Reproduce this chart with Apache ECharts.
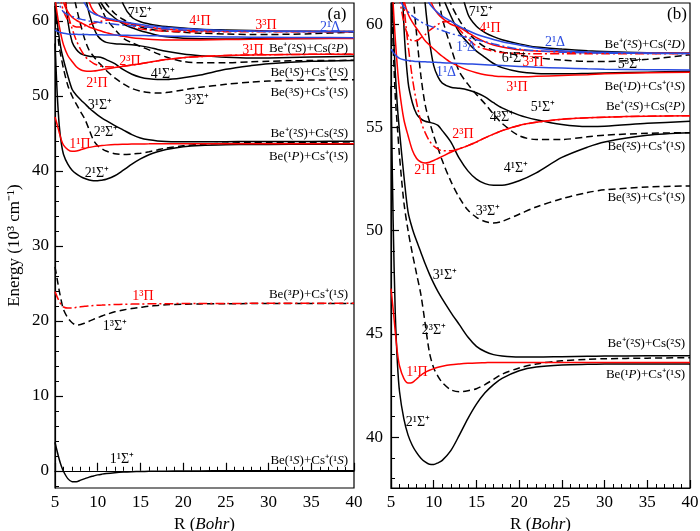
<!DOCTYPE html>
<html><head><meta charset="utf-8">
<script src="https://cdn.jsdelivr.net/npm/echarts@6/dist/echarts.min.js"></script>
<style>html,body{margin:0;padding:0;background:#fff}#c{width:700px;height:531px}</style>
</head><body><div id="c"></div>
<script>
// R grid (Bohr)
const R = [5,5.25,5.5,5.75,6,6.5,7,7.5,8,8.5,9,9.5,10,10.5,11,12,13,14,15,16,17,18,20,22,25,28,30,35,40];
// Energies (10^3 cm^-1)
const E_1S1 = [3.8,2.6,1.5,0.6,-0.1,-1.05,-1.45,-1.45,-1.25,-1.05,-0.85,-0.7,-0.55,-0.45,-0.37,-0.26,-0.18,-0.13,-0.1,-0.08,-0.06,-0.05,-0.03,-0.02,-0.01,0,0,0,0];
const E_1S3 = [27.2,25.6,24.0,22.6,21.5,20.4,19.75,19.45,19.5,19.7,19.95,20.2,20.4,20.65,20.85,21.2,21.45,21.65,21.8,21.95,22.05,22.15,22.22,22.26,22.28,22.3,22.3,22.3,22.3];
const E_1P3 = [23.9,23.2,22.6,22.1,21.85,21.7,21.7,21.8,21.88,21.95,22.0,22.05,22.08,22.1,22.13,22.17,22.2,22.23,22.25,22.27,22.28,22.29,22.3,22.3,22.32,22.33,22.33,22.34,22.35];
const E_2S1 = [57,50.5,46,43.6,42.2,40.9,40.1,39.6,39.25,38.98,38.8,38.69,38.68,38.76,38.88,39.35,40.1,40.9,41.6,42.15,42.55,42.85,43.22,43.4,43.5,43.53,43.54,43.55,43.55];
const E_1P1 = [47.2,46.2,45.1,44.1,43.45,42.85,42.62,42.65,42.82,43.0,43.14,43.24,43.32,43.39,43.44,43.51,43.55,43.58,43.6,43.61,43.62,43.62,43.62,43.62,43.62,43.62,43.62,43.62,43.62];
const E_2S3 = [62,59,56.5,55,53.6,51.4,50.0,48.9,47.9,46.9,45.5,44.1,43.35,42.95,42.65,42.3,42.2,42.25,42.35,42.55,42.8,43.05,43.35,43.55,43.7,43.77,43.8,43.83,43.85];
const E_3S1 = [63,60,57.7,56,54.8,52.7,50.9,50.1,49.5,48.95,48.4,47.9,47.45,47.05,46.7,46.05,45.45,44.85,44.4,44.15,44.0,43.93,43.88,43.88,43.9,43.92,43.93,43.94,43.95];
const E_3S3 = [80,78,76,74,72,68,64.5,61.8,59.5,57.5,56.1,55.3,54.6,54.0,53.4,52.4,51.6,51.0,50.65,50.45,50.38,50.45,50.8,51.15,51.55,51.85,51.98,52.12,52.17];
const E_4S1 = [80,77,74,70,66,60,57.2,56.2,55.65,55.42,55.3,55.25,55.2,55.1,54.85,54.3,53.5,52.9,52.5,52.28,52.2,52.2,52.42,52.8,53.55,54.05,54.3,54.62,54.74];
const E_2P1 = [63,61,59.3,57.9,56.8,55.4,54.6,53.9,53.5,53.33,53.28,53.32,53.4,53.5,53.6,53.8,53.97,54.12,54.3,54.5,54.68,54.85,55.1,55.25,55.4,55.47,55.5,55.55,55.57];
const E_2P3 = [72,70,68,66,64,61,59.0,57.4,56.2,55.3,54.75,54.35,54.1,53.95,53.88,53.87,53.97,54.12,54.3,54.5,54.68,54.85,55.1,55.25,55.4,55.47,55.5,55.55,55.57];
const E_5S1 = [90,88,86,84,82,78,74,70,66.5,63.5,61.0,59.2,58.0,57.45,57.15,56.95,56.9,56.82,56.68,56.48,56.2,55.95,55.6,55.38,55.15,55.05,55.06,55.2,55.3];
const E_4S3 = [100,98,96,94,92,87,82,76,72,68.5,66,64.2,62.7,61.5,60.3,58.9,57.7,57.1,56.6,56.15,55.65,55.2,54.6,54.42,54.42,54.55,54.63,54.72,54.75];
const E_3P1 = [72,69,66.5,64.3,62.5,61.2,60.5,60.1,59.8,59.5,59.2,59.0,58.8,58.62,58.45,58.15,57.95,57.78,57.65,57.55,57.5,57.47,57.46,57.48,57.52,57.56,57.6,57.65,57.68];
const E_1D1 = [58.8,58.65,58.52,58.42,58.35,58.28,58.24,58.22,58.2,58.19,58.18,58.17,58.16,58.15,58.14,58.12,58.1,58.08,58.06,58.04,58.02,58.0,57.96,57.92,57.88,57.84,57.82,57.8,57.78];
const E_1D3 = [63.5,62.8,62.2,61.6,61.2,60.85,60.6,60.4,60.25,60.12,60.0,59.92,59.85,59.77,59.7,59.55,59.45,59.35,59.25,59.15,59.05,58.95,58.8,58.72,58.65,58.62,58.6,58.59,58.58];
const E_3P3 = [68,66,64,62.4,61.3,60.1,59.45,59.2,59.2,59.35,59.5,59.7,59.85,60.0,60.1,60.15,59.75,59.3,58.95,58.8,58.7,58.63,58.58,58.57,58.57,58.57,58.57,58.57,58.57];
const E_6S1 = [100,98,96,94,92,88,84,80,75,71,67.5,65,63.3,62.2,61.4,60.4,59.6,59.1,58.7,58.4,58.1,57.9,57.7,57.62,57.6,57.62,57.64,57.68,57.72];
const E_5S3 = [100,98,96,94,92,88,84,80,76,72,69,66.5,64.5,63.3,62.3,61.0,60.2,59.6,59.2,58.9,58.75,58.65,58.5,58.38,58.27,58.2,58.2,58.3,58.52];
const E_4P1 = [90,88,86,84,82,77,72.5,68.5,66,64.5,62.5,61.3,60.8,60.5,60.3,60.0,59.85,59.6,59.35,59.15,59.0,58.9,58.76,58.7,58.66,58.63,58.62,58.61,58.6];
const E_2D1 = [90,88,86,84,82,77,72,67.5,63.5,62.3,61.4,61.0,60.75,60.55,60.4,60.15,59.9,59.7,59.52,59.38,59.26,59.15,59.0,58.85,58.72,58.66,58.64,58.61,58.59];
const E_7S1 = [100,98,96,94,92,90,88,86,84,82,80,78,76,74,72,66,62.2,60.5,59.9,59.6,59.4,59.25,59.05,58.9,58.8,58.72,58.68,58.62,58.6];

// tick labels
const X_TICKS = [5,10,15,20,25,30,35,40];
const YA_MAJOR = [0,10,20,30,40,50,60];
const YA_MINOR = [-2,2,4,6,8,12,14,16,18,22,24,26,28,32,34,36,38,42,44,46,48,52,54,56,58,62];
const YB_MAJOR = [40,45,50,55,60];
const YB_MINOR = [38,39,41,42,43,44,46,47,48,49,51,52,53,54,56,57,58,59,61];

const K='#000000', RED='#ff0000', BLU='#2a4be0';
const SOLID='solid', DASH=[7,4], DDOT=[9,3,2,3];
const curves = [
  {E:E_1S1,c:K,t:SOLID,z:2},{E:E_1S3,c:K,t:DASH,z:2},{E:E_2S1,c:K,t:SOLID,z:2},{E:E_2S3,c:K,t:DASH,z:2},
  {E:E_3S1,c:K,t:SOLID,z:2},{E:E_3S3,c:K,t:DASH,z:2},{E:E_4S1,c:K,t:SOLID,z:2},{E:E_5S1,c:K,t:SOLID,z:2},
  {E:E_4S3,c:K,t:DASH,z:2},{E:E_6S1,c:K,t:SOLID,z:2},{E:E_5S3,c:K,t:DASH,z:2},{E:E_7S1,c:K,t:SOLID,z:2},
  {E:E_1P3,c:RED,t:DDOT,z:3},{E:E_1P1,c:RED,t:SOLID,z:3},{E:E_2P1,c:RED,t:SOLID,z:3},{E:E_2P3,c:RED,t:DDOT,z:3},
  {E:E_3P1,c:RED,t:SOLID,z:3},{E:E_3P3,c:RED,t:DDOT,z:3},{E:E_4P1,c:RED,t:SOLID,z:3},
  {E:E_1D1,c:BLU,t:SOLID,z:4},{E:E_1D3,c:BLU,t:DDOT,z:4},{E:E_2D1,c:BLU,t:SOLID,z:4}
];

const FF = '"Liberation Serif","Times New Roman",serif';
const series = [];
[0,1].forEach(gi => {
  curves.forEach(cv => {
    series.push({
      type:'line', xAxisIndex:gi, yAxisIndex:gi*2,
      data: R.map((r,i)=>[r, cv.E[i]]),
      showSymbol:false, symbol:'none', smooth:0.3, silent:true, z:cv.z,
      lineStyle:{color:cv.c, width:1.5, type:cv.t, cap:'butt'}
    });
  });
});

const xName = {fontFamily:FF, fontSize:17, color:'#000', rich:{i:{fontFamily:FF, fontSize:17, fontStyle:'italic', color:'#000'}}};
function xAxis(gi){
  return {type:'value', gridIndex:gi, min:5, max:40, interval:5,
    axisLine:{show:true, lineStyle:{color:'#000', width:1.2}},
    axisTick:{inside:true, length:8, lineStyle:{color:'#000', width:1.2}},
    minorTick:{show:true, splitNumber:5, length:4, lineStyle:{color:'#000', width:1}},
    axisLabel:{color:'#000', fontFamily:FF, fontSize:17, margin:6, customValues:X_TICKS},
    splitLine:{show:false}, minorSplitLine:{show:false},
    name:'R ({i|Bohr})', nameLocation:'middle', nameGap:25, nameTextStyle:xName};
}
function yMajor(gi, min, max, vals, margin, name){
  const a = {type:'value', gridIndex:gi, min:min, max:max, position:'left', offset:0,
    axisLine:{show:true, lineStyle:{color:'#000', width:1.2}},
    axisTick:{show:true, inside:true, length:8, customValues:vals, lineStyle:{color:'#000', width:1.2}},
    axisLabel:{color:'#000', fontFamily:FF, fontSize:17, margin:margin, customValues:vals},
    splitLine:{show:false}};
  if (name) { a.name=name; a.nameLocation='middle'; a.nameGap=32; a.nameRotate=90;
    a.nameTextStyle={fontFamily:FF, fontSize:17, color:'#000'}; }
  return a;
}
function yMinor(gi, min, max, vals){
  return {type:'value', gridIndex:gi, min:min, max:max, position:'left', offset:0,
    axisLine:{show:false}, axisLabel:{show:false}, splitLine:{show:false},
    axisTick:{show:true, inside:true, length:4, customValues:vals, lineStyle:{color:'#000', width:1}}};
}

// annotations
const COL = {k:K, r:RED, b:BLU};
const stateLabels = [
  ['7¹Σ⁺','k',140,13],['4¹Π','r',200,21],['3³Π','r',266,25],['2¹Δ','b',330,27],['3¹Π','r',253,50],
  ['2³Π','r',130,61],['4¹Σ⁺','k',163,74],['2¹Π','r',97,83],['3³Σ⁺','k',197,100],['3¹Σ⁺','k',100,105],
  ['2³Σ⁺','k',106,132],['1¹Π','r',80,144],['2¹Σ⁺','k',97,173],['1³Π','r',143,296],['1³Σ⁺','k',115,326],
  ['1¹Σ⁺','k',122,459],
  ['7¹Σ⁺','k',481,12],['4¹Π','r',490,28],['2¹Δ','b',555,42],['1³Δ','b',466,47],['6¹Σ⁺','k',514,58],
  ['3³Π','r',533,62],['5³Σ⁺','k',630,64],['1¹Δ','b',446,72],['3¹Π','r',517,87],['5¹Σ⁺','k',543,107],
  ['4³Σ⁺','k',502,117],['2³Π','r',463,134],['2¹Π','r',425,170],['4¹Σ⁺','k',516,168],['3³Σ⁺','k',488,211],
  ['3¹Σ⁺','k',445,275],['2³Σ⁺','k',434,330],['1¹Π','r',417,372],['2¹Σ⁺','k',418,422]
];
const asymLabels = [
  ['Be⁺(²{i|S})+Cs(²{i|P})',348,49],['Be(¹{i|S})+Cs⁺(¹{i|S})',348,73],['Be(³{i|S})+Cs⁺(¹{i|S})',348,93],
  ['Be⁺(²{i|S})+Cs(²{i|S})',348,134],['Be(¹{i|P})+Cs⁺(¹{i|S})',348,157],['Be(³{i|P})+Cs⁺(¹{i|S})',348,295],
  ['Be(¹{i|S})+Cs⁺(¹{i|S})',348,461],
  ['Be⁺(²{i|S})+Cs(²{i|D})',685,45],['Be(¹{i|D})+Cs⁺(¹{i|S})',685,87],['Be⁺(²{i|S})+Cs(²{i|P})',685,107],
  ['Be(²{i|S})+Cs⁺(¹{i|S})',685,147],['Be(³{i|S})+Cs⁺(¹{i|S})',685,198],['Be⁺(²{i|S})+Cs(²{i|S})',685,344],
  ['Be(¹{i|P})+Cs⁺(¹{i|S})',685,375]
];
const graphic = [];
stateLabels.forEach(([t,c,x,y]) => graphic.push({type:'text', x:x, y:y, z:10, silent:true,
  style:{text:t, fill:COL[c], fontFamily:FF, fontSize:14, textAlign:'center', textVerticalAlign:'middle'}}));
asymLabels.forEach(([t,x,y]) => graphic.push({type:'text', x:x, y:y, z:10, silent:true,
  style:{text:t, fill:'#000', fontFamily:FF, fontSize:13, textAlign:'right', textVerticalAlign:'middle',
    rich:{i:{fontFamily:FF, fontSize:13, fontStyle:'italic', fill:'#000'}}}}));
graphic.push({type:'text', x:337, y:15, z:10, style:{text:'(a)', fill:'#000', fontFamily:FF, fontSize:17, textAlign:'center', textVerticalAlign:'middle'}});
graphic.push({type:'text', x:677, y:15, z:10, style:{text:'(b)', fill:'#000', fontFamily:FF, fontSize:17, textAlign:'center', textVerticalAlign:'middle'}});

const chart = echarts.init(document.getElementById('c'), null, {renderer:'canvas'});
chart.setOption({
  animation:false,
  backgroundColor:'#fff',
  grid:[
    {left:55, top:3, width:299, height:485, show:true, borderColor:'#000', borderWidth:1.2, containLabel:false, outerBoundsMode:'none'},
    {left:391, top:3, width:299, height:485, show:true, borderColor:'#000', borderWidth:1.2, containLabel:false, outerBoundsMode:'none'}
  ],
  xAxis:[xAxis(0), xAxis(1)],
  yAxis:[
    yMajor(0, -2.3, 62.4, YA_MAJOR, 6, 'Energy (10³ cm⁻¹)'),
    yMinor(0, -2.3, 62.4, YA_MINOR),
    yMajor(1, 37.54, 61.03, YB_MAJOR, 8, null),
    yMinor(1, 37.54, 61.03, YB_MINOR)
  ],
  series: series,
  graphic: graphic
});
</script>
</body></html>
